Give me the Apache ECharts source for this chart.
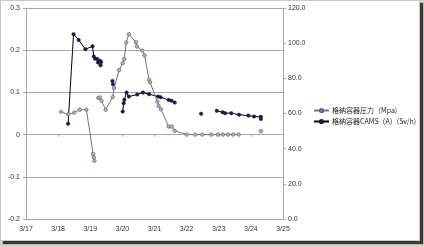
<!DOCTYPE html>
<html>
<head>
<meta charset="utf-8">
<script src="https://cdn.jsdelivr.net/npm/echarts@6/dist/echarts.min.js"></script>
<style>
html,body{margin:0;padding:0;background:#d9d2c3;}
#frame{position:absolute;left:0;top:0;width:418px;height:239px;background:#fff;border:1px solid #c9c9c9;box-shadow:3px 3px 1px #3a3a3a;}
#chart{position:absolute;left:0;top:0;width:420px;height:241px;}
</style>
</head>
<body>
<div id="frame"></div>
<div id="chart"></div>
<script>
// x tick labels (March days)
const xTickDays = [17, 18, 19, 20, 21, 22, 23, 24, 25];
const legendNames = ['格納容器圧力（Mpa)', '格納容器CAMS（A）(Sv/h)'];

// Containment pressure (MPa), left axis; null = gap
const pressureDays = [18.09,18.31,18.5,18.67,18.88,19.09,19.11,19.13,19.2,
  19.25,19.3,19.35,19.48,19.7,19.74,19.9,20.01,20.06,20.12,20.2,20.42,20.45,20.62,20.69,
  20.83,20.86,21.09,21.13,21.2,21.44,21.54,21.63,22.0,22.27,22.49,22.77,22.97,23.13,23.29,
  23.45,23.62,24.0,24.31];
const pressureValues = [0.054,0.048,0.052,0.059,0.059,-0.046,-0.054,-0.062,null,
  0.087,0.088,0.08,0.059,0.089,0.11,0.153,0.169,0.179,0.218,0.238,0.219,0.209,0.199,0.188,
  0.13,0.124,0.078,0.068,0.06,0.019,0.019,0.009,0,0,0,0,0,0,0,
  0,0,null,0.008];

// CAMS (A) dose rate (Sv/h), right axis; null = gap
const camsDays = [18.31,18.48,18.64,18.85,19.07,19.11,19.15,19.22,19.24,19.3,19.32,19.34,19.5,
  19.69,19.71,19.85,20.01,20.04,20.06,20.13,20.2,20.46,20.64,20.83,21.11,21.19,21.44,21.53,21.63,
  22.0,22.45,22.7,22.94,23.12,23.2,23.39,23.63,23.92,24.1,24.31,24.31];
const camsValues = [54.2,105.1,101.8,96.6,98.2,92.4,91.2,91.0,89.0,90.0,87.4,89.3,null,
  78.5,76.6,null,61.1,65.9,67.8,71.9,69.6,70.8,71.9,71.0,69.6,69.3,67.7,67.3,66.2,
  null,59.8,null,61.5,60.7,60.2,60.2,59.3,58.8,58.3,58.1,56.9];

const pressureData = pressureDays.map((d,i)=>[d, pressureValues[i]===null?'-':pressureValues[i]]);
const camsData = camsDays.map((d,i)=>[d, camsValues[i]===null?'-':camsValues[i]]);

const font = 'Liberation Sans, Arial, sans-serif';
const labelStyle = {fontSize:7, color:'#333', fontFamily:font};
const grid = '#a8a8a8';

const chart = echarts.init(document.getElementById('chart'), null, {renderer:'canvas'});
chart.setOption({
  animation:false,
  backgroundColor:'transparent',
  grid:{left:26, right:137, top:8, bottom:22, containLabel:false},
  legend:{
    orient:'vertical', left:313, top:107, itemGap:4, itemWidth:15, itemHeight:4,
    padding:0,
    textStyle:{fontSize:7, color:'#222', fontFamily:'Noto Sans CJK JP, sans-serif', padding:[0,0,0,-2]},
    data:legendNames
  },
  xAxis:[{
    type:'value', min:xTickDays[0], max:xTickDays[xTickDays.length-1], interval:1,
    position:'bottom',
    axisLine:{show:false, onZero:false},
    axisTick:{show:false},
    splitLine:{show:false},
    axisLabel:Object.assign({formatter:v=>'3/'+v, margin:7}, labelStyle)
  },{
    type:'value', min:xTickDays[0], max:xTickDays[xTickDays.length-1], interval:1,
    position:'bottom',
    axisLine:{show:true, onZero:true, lineStyle:{color:grid, width:1}},
    axisTick:{show:true, length:2, lineStyle:{color:grid}},
    splitLine:{show:false},
    axisLabel:{show:false}
  }],
  yAxis:[{
    type:'value', min:-0.2, max:0.3, interval:0.1, position:'left',
    axisLine:{show:true, lineStyle:{color:grid}},
    axisTick:{show:true, length:3, lineStyle:{color:grid}},
    splitLine:{show:true, lineStyle:{color:grid, width:1}},
    axisLabel:Object.assign({formatter:v=>String(Math.round(v*10)/10), margin:6}, labelStyle)
  },{
    type:'value', min:0, max:120, interval:20, position:'right',
    axisLine:{show:true, lineStyle:{color:grid}},
    axisTick:{show:true, length:3, lineStyle:{color:grid}},
    splitLine:{show:false},
    axisLabel:Object.assign({formatter:v=>v.toFixed(1), margin:5}, labelStyle)
  }],
  series:[{
    name:legendNames[0], type:'line', xAxisIndex:0, yAxisIndex:0,
    data:pressureData, connectNulls:false,
    symbol:'circle', symbolSize:3.5,
    lineStyle:{color:'#7a68a8', width:1},
    itemStyle:{color:'#a9c46a', borderColor:'#6d5e9c', borderWidth:0.7},
    z:3
  },{
    name:legendNames[1], type:'line', xAxisIndex:0, yAxisIndex:1,
    data:camsData, connectNulls:false,
    symbol:'circle', symbolSize:3.5,
    lineStyle:{color:'#000000', width:1},
    itemStyle:{color:'#1d1844', borderColor:'#1d1844', borderWidth:0.5},
    z:2
  }]
});
</script>
</body>
</html>
